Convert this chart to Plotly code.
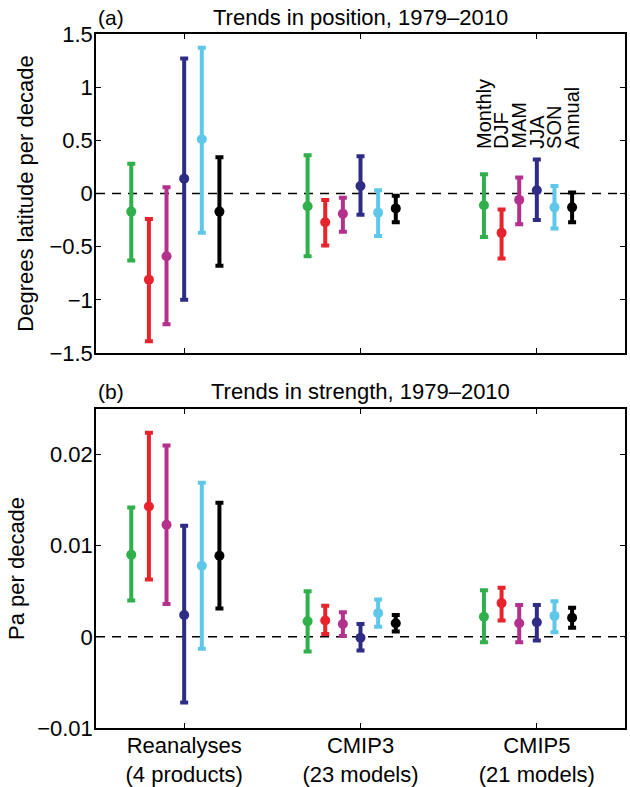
import plotly.graph_objects as go
from plotly.subplots import make_subplots

# Season / averaging labels and their colours
seasons = ["Monthly", "DJF", "MAM", "JJA", "SON", "Annual"]
colors = ["#2fb04a", "#e8232b", "#b3318c", "#2e2c85", "#5fc8ea", "#000000"]

# Data-set groups along the x axis
groups = ["Reanalyses<br>(4 products)", "CMIP3<br>(23 models)", "CMIP5<br>(21 models)"]

# (a) Trends in jet position (degrees latitude per decade); rows = seasons, cols = groups
pos_mean = [
    [-0.17, -0.12, -0.11],
    [-0.81, -0.27, -0.37],
    [-0.59, -0.19, -0.06],
    [0.14, 0.07, 0.03],
    [0.51, -0.18, -0.13],
    [-0.17, -0.14, -0.13],
]
pos_lo = [
    [-0.63, -0.59, -0.41],
    [-1.39, -0.49, -0.61],
    [-1.23, -0.36, -0.29],
    [-1.00, -0.20, -0.25],
    [-0.37, -0.40, -0.33],
    [-0.68, -0.27, -0.27],
]
pos_hi = [
    [0.28, 0.36, 0.18],
    [-0.24, -0.06, -0.15],
    [0.06, -0.04, 0.15],
    [1.27, 0.35, 0.32],
    [1.37, 0.03, 0.07],
    [0.34, -0.02, 0.01],
]

# (b) Trends in jet strength (Pa per decade)
str_mean = [
    [0.0090, 0.0017, 0.0022],
    [0.0143, 0.0018, 0.0037],
    [0.0123, 0.0014, 0.0015],
    [0.0024, -0.0001, 0.0016],
    [0.0078, 0.0026, 0.0023],
    [0.0089, 0.0015, 0.0021],
]
str_lo = [
    [0.0040, -0.0016, -0.0006],
    [0.0063, 0.0003, 0.0018],
    [0.0036, 0.0001, -0.0006],
    [-0.0072, -0.0015, -0.0004],
    [-0.0013, 0.0011, 0.0005],
    [0.0031, 0.0006, 0.0010],
]
str_hi = [
    [0.0142, 0.0050, 0.0051],
    [0.0224, 0.0034, 0.0054],
    [0.0210, 0.0027, 0.0035],
    [0.0122, 0.0014, 0.0035],
    [0.0169, 0.0041, 0.0039],
    [0.0147, 0.0024, 0.0032],
]

group_pos = [1, 2, 3]
spacing = 0.1   # horizontal spacing between seasons inside a group
center_idx = 3  # JJA sits on the group tick

FONT = "Liberation Sans, Arial, Helvetica, sans-serif"

fig = make_subplots(rows=2, cols=1, vertical_spacing=0.0806)


def add_panel(row, mean, lo, hi):
    for k, name in enumerate(seasons):
        xs = [g + (k - center_idx) * spacing for g in group_pos]
        plus = [h - m for h, m in zip(hi[k], mean[k])]
        minus = [m - l for m, l in zip(mean[k], lo[k])]
        fig.add_trace(
            go.Scatter(
                x=xs,
                y=mean[k],
                mode="markers",
                name=name,
                showlegend=False,
                marker=dict(color=colors[k], size=10, symbol="circle"),
                error_y=dict(
                    type="data",
                    symmetric=False,
                    array=plus,
                    arrayminus=minus,
                    color=colors[k],
                    thickness=4,
                    width=4,
                ),
            ),
            row=row,
            col=1,
        )


add_panel(1, pos_mean, pos_lo, pos_hi)
add_panel(2, str_mean, str_lo, str_hi)

axis_common = dict(
    showline=True,
    linecolor="black",
    linewidth=1.5,
    mirror="ticks",
    ticks="inside",
    ticklen=5,
    tickwidth=1.2,
    tickcolor="black",
    showgrid=False,
    zeroline=False,
    automargin=False,
    tickfont=dict(family=FONT, size=22, color="black"),
)

fig.update_xaxes(
    range=[0.5, 3.5],
    tickvals=group_pos,
    ticktext=groups,
    ticklabelstandoff=-3,
    **axis_common,
)
fig.update_xaxes(showticklabels=False, row=1, col=1)

fig.update_yaxes(
    range=[-1.5, 1.5],
    tickvals=[-1.5, -1, -0.5, 0, 0.5, 1, 1.5],
    ticktext=["\u22121.5", "\u22121", "\u22120.5", "0", "0.5", "1", "1.5"],
    ticklabelstandoff=-3,
    title=dict(text="Degrees latitude per decade", font=dict(family=FONT, size=22, color="black"), standoff=10),
    row=1,
    col=1,
    **axis_common,
)
fig.update_yaxes(
    range=[-0.01, 0.025],
    tickvals=[-0.01, 0, 0.01, 0.02],
    ticktext=["\u22120.01", "0", "0.01", "0.02"],
    ticklabelstandoff=-3,
    title=dict(text="Pa per decade", font=dict(family=FONT, size=22, color="black"), standoff=6),
    row=2,
    col=1,
    **axis_common,
)

# Dashed zero reference lines
for xref, yref in [("x domain", "y"), ("x2 domain", "y2")]:
    fig.add_shape(
        type="line",
        xref=xref,
        yref=yref,
        x0=0,
        x1=1,
        y0=0,
        y1=0,
        line=dict(color="black", width=1.5, dash="9px,7px"),
        layer="below",
    )

# Panel titles and letters
for yref, letter, title in [
    ("y domain", "(a)", "Trends in position, 1979\u20132010"),
    ("y2 domain", "(b)", "Trends in strength, 1979\u20132010"),
]:
    xref = "x domain" if yref == "y domain" else "x2 domain"
    fig.add_annotation(
        xref=xref, yref=yref, x=0, y=1, xanchor="left", yanchor="middle",
        yshift=17, text=letter, showarrow=False,
        font=dict(family=FONT, size=21, color="black"),
    )
    fig.add_annotation(
        xref=xref, yref=yref, x=0.5, y=1, xanchor="center", yanchor="middle",
        yshift=17, text=title, showarrow=False,
        font=dict(family=FONT, size=22, color="black"),
    )

# Season labels above the CMIP5 group
for k, name in enumerate(seasons):
    fig.add_annotation(
        xref="x", yref="y",
        x=group_pos[2] + (k - center_idx) * spacing,
        y=0.40,
        text=name,
        textangle=-90,
        xanchor="center",
        yanchor="bottom",
        showarrow=False,
        font=dict(family=FONT, size=20, color="black"),
    )

fig.update_layout(
    width=630,
    height=787,
    margin=dict(l=96, r=5, t=34, b=59, autoexpand=False),
    paper_bgcolor="white",
    plot_bgcolor="white",
    font=dict(family=FONT, color="black"),
)

fig.write_html("out.html")
